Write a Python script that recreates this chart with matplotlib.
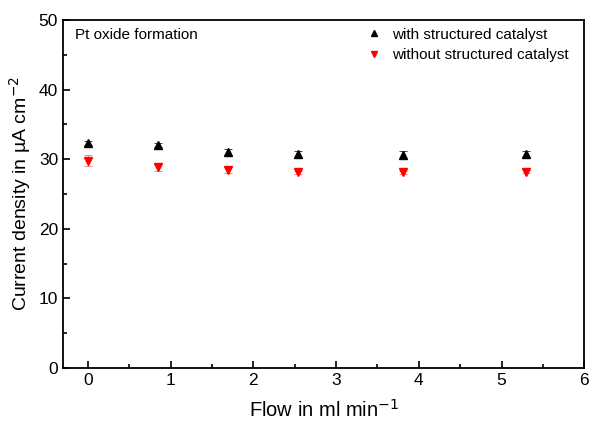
import matplotlib
matplotlib.use("Agg")
import matplotlib.pyplot as plt
from matplotlib.lines import Line2D

plt.rcParams["font.family"] = ["Liberation Sans", "DejaVu Sans"]

flow = [0.0, 0.85, 1.69, 2.54, 3.81, 5.30]
with_cat = [32.3, 32.0, 31.0, 30.7, 30.6, 30.7]
with_err = [0.3, 0.3, 0.4, 0.5, 0.6, 0.4]
without_cat = [29.8, 28.8, 28.4, 28.1, 28.1, 28.2]
without_err = [0.8, 0.5, 0.4, 0.2, 0.2, 0.2]

fig = plt.figure(figsize=(5.89, 4.23), dpi=100)
ax = fig.add_axes([0.107, 0.130, 0.885, 0.823])

ax.errorbar(flow, with_cat, yerr=with_err, fmt="^", color="black", ms=6,
            capsize=3, elinewidth=0.7, capthick=0.7, ecolor="#444444")
ax.errorbar(flow, without_cat, yerr=without_err, fmt="v", color="red", ms=6,
            capsize=3, elinewidth=0.7, capthick=0.7, ecolor="#ff8080")

ax.set_xlim(-0.3, 6)
ax.set_ylim(0, 50)
ax.set_xticks(range(0, 7))
ax.set_xticks([0.5, 1.5, 2.5, 3.5, 4.5, 5.5], minor=True)
ax.set_yticks(range(0, 51, 10))
ax.set_yticks(range(5, 50, 10), minor=True)
ax.tick_params(direction="in", which="both", labelsize=12.5, top=False, right=False)
ax.tick_params(which="major", length=5, width=1.2)
ax.tick_params(which="minor", length=3, width=1.2)
for s in ax.spines.values():
    s.set_linewidth(1.3)

ax.set_xlabel("Flow in ml min$^{-1}$", fontsize=14.5, labelpad=8)
ax.set_ylabel("Current density in µA cm$^{-2}$", fontsize=14, labelpad=4)
ax.text(0.023, 0.978, "Pt oxide formation", transform=ax.transAxes,
        fontsize=11, va="top")

handles = [
    Line2D([], [], ls="none", marker="^", color="black", ms=5),
    Line2D([], [], ls="none", marker="v", color="red", ms=5),
]
ax.legend(handles, ["with structured catalyst", "without structured catalyst"],
          loc="upper right", frameon=False, fontsize=11, handletextpad=0.6,
          handlelength=1.2, borderaxespad=0.1, labelspacing=0.45,
          bbox_to_anchor=(0.985, 1.0))

fig.savefig("out.png", dpi=100)
